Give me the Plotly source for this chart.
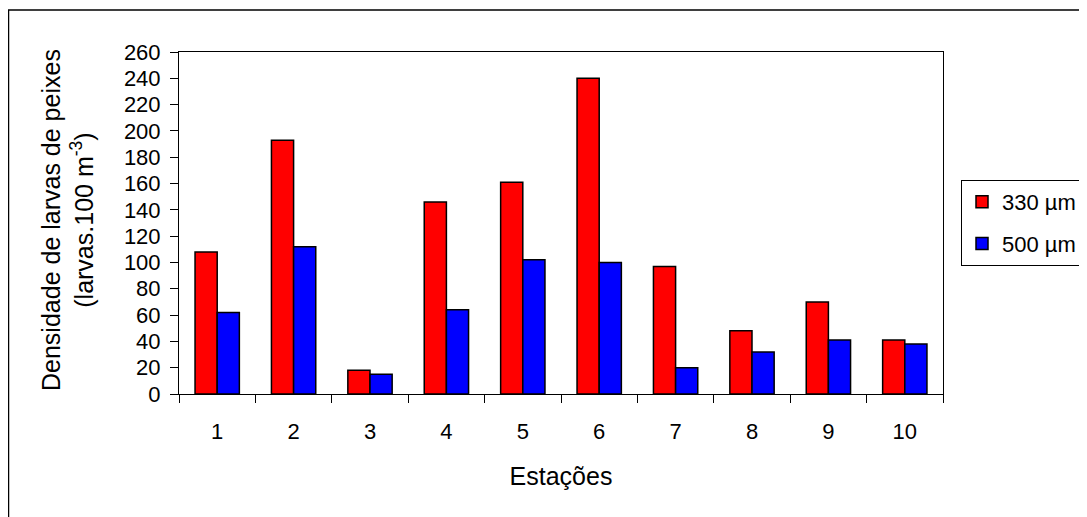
import plotly.graph_objects as go

estacoes = ["1", "2", "3", "4", "5", "6", "7", "8", "9", "10"]
malha_330 = [108, 193, 18, 146, 161, 240, 97, 48, 70, 41]
malha_500 = [62, 112, 15, 64, 102, 100, 20, 32, 41, 38]
y_ticks = list(range(0, 261, 20))

FONT = "Liberation Sans, Arial, sans-serif"

# The page body has an 8px margin, so figure coords = page coords - 8
OFF = 8
W, H = 1087 - OFF, 517 - OFF
L, R, T, B = 179 - OFF, 943 - OFF, 52 - OFF, 394 - OFF

fig = go.Figure()
fig.add_trace(go.Bar(x=estacoes, y=malha_330, name="330 µm", legendgroup="a",
                     marker=dict(color="#FF0000", line=dict(color="black", width=1.5))))
fig.add_trace(go.Bar(x=estacoes, y=malha_500, name="500 µm", legendgroup="b",
                     marker=dict(color="#0000FF", line=dict(color="black", width=1.5))))


def px_to_paper_x(px):
    return (px - OFF - L) / (R - L)


def px_to_paper_y(py):
    return (B - (py - OFF)) / (B - T)


fig.update_layout(
    width=W, height=H,
    margin=dict(l=L, r=W - R, t=T, b=H - B, autoexpand=False),
    paper_bgcolor="white", plot_bgcolor="white",
    barmode="group", bargap=0.42, bargroupgap=0,
    font=dict(family=FONT, size=22, color="black"),
    showlegend=True,
    legend=dict(x=px_to_paper_x(961), xanchor="left", y=0.5, yanchor="middle",
                bordercolor="black", borderwidth=1, bgcolor="white",
                font=dict(family=FONT, size=22, color="black"),
                tracegroupgap=10, traceorder="grouped",
                itemwidth=30),
    xaxis=dict(type="category", showline=True, linecolor="black", linewidth=1,
               mirror=True, ticks="outside", tickson="boundaries", ticklen=8,
               tickcolor="black", showgrid=False, ticklabelstandoff=18,
               title=dict(text="Estações", font=dict(family=FONT, size=25), standoff=24)),
    yaxis=dict(range=[0, 260], tickvals=y_ticks, showline=True, linecolor="black",
               linewidth=1, mirror=True, ticks="outside", ticklen=8, tickcolor="black",
               showgrid=False, zeroline=False, ticklabelstandoff=5),
    shapes=[dict(type="rect", xref="paper", yref="paper",
                 x0=px_to_paper_x(8.5), x1=px_to_paper_x(1200),
                 y0=px_to_paper_y(600), y1=px_to_paper_y(10),
                 line=dict(color="black", width=1.5), fillcolor="rgba(0,0,0,0)",
                 layer="below")],
    annotations=[dict(text="Densidade de larvas de peixes<br>(larvas.100 m<sup>-3</sup>)",
                      xref="paper", yref="paper", x=px_to_paper_x(67), y=px_to_paper_y(220),
                      xanchor="center", yanchor="middle", textangle=-90,
                      showarrow=False, font=dict(family=FONT, size=25, color="black"))],
)

fig.write_html("out.html")
